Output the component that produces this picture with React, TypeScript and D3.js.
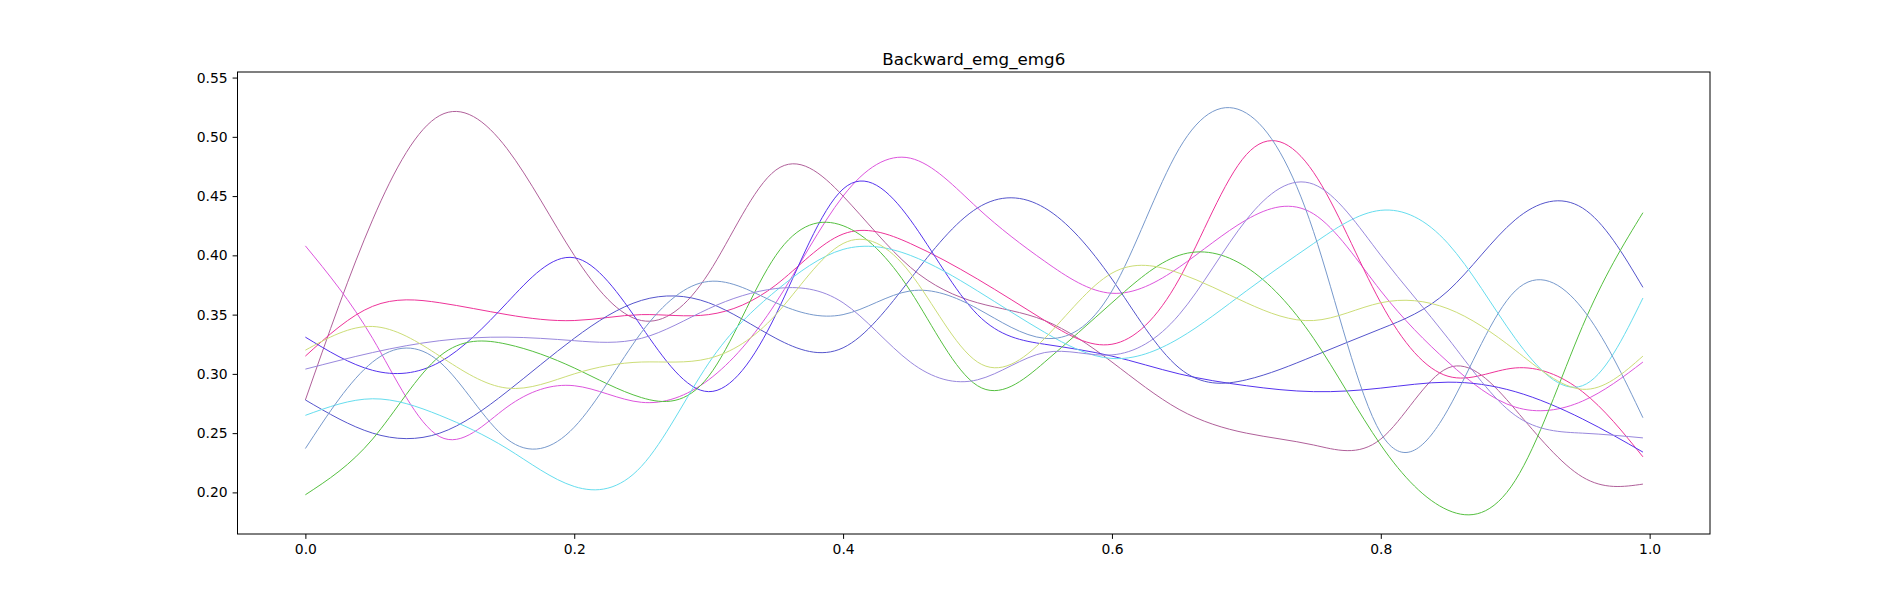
import { useEffect, useRef } from 'react';
import * as d3 from 'd3';

const xs = [0, 0.05, 0.1, 0.15, 0.2, 0.25, 0.3, 0.35, 0.4, 0.45, 0.5, 0.55, 0.6, 0.65, 0.7, 0.75, 0.8, 0.85, 0.9, 0.95, 0.995];

const mauve = [0.278, 0.43, 0.518, 0.49, 0.4, 0.345, 0.385, 0.472, 0.45, 0.39, 0.36, 0.345, 0.31, 0.27, 0.25, 0.24, 0.245, 0.305, 0.27, 0.213, 0.207];
const violet = [0.408, 0.33, 0.247, 0.272, 0.29, 0.276, 0.295, 0.36, 0.45, 0.482, 0.44, 0.395, 0.368, 0.39, 0.43, 0.435, 0.37, 0.31, 0.272, 0.277, 0.31];
const hotPink = [0.315, 0.357, 0.36, 0.35, 0.345, 0.35, 0.35, 0.375, 0.418, 0.41, 0.38, 0.345, 0.325, 0.38, 0.485, 0.47, 0.36, 0.298, 0.305, 0.285, 0.23];
const blueViolet = [0.331, 0.303, 0.31, 0.36, 0.398, 0.34, 0.285, 0.35, 0.456, 0.43, 0.35, 0.325, 0.315, 0.3, 0.29, 0.285, 0.288, 0.293, 0.285, 0.262, 0.234];
const slateBlue = [0.278, 0.25, 0.25, 0.285, 0.33, 0.362, 0.36, 0.33, 0.322, 0.38, 0.44, 0.44, 0.38, 0.305, 0.295, 0.315, 0.338, 0.37, 0.43, 0.44, 0.373];
const green = [0.198, 0.245, 0.315, 0.325, 0.305, 0.28, 0.298, 0.4, 0.425, 0.37, 0.29, 0.31, 0.36, 0.4, 0.39, 0.33, 0.24, 0.185, 0.21, 0.34, 0.436];
const cyan = [0.265, 0.279, 0.265, 0.237, 0.205, 0.222, 0.309, 0.37, 0.405, 0.4, 0.37, 0.335, 0.313, 0.33, 0.37, 0.41, 0.438, 0.41, 0.33, 0.29, 0.364];
const steel = [0.237, 0.31, 0.31, 0.245, 0.255, 0.335, 0.378, 0.36, 0.35, 0.37, 0.355, 0.33, 0.37, 0.49, 0.52, 0.42, 0.25, 0.27, 0.37, 0.355, 0.263];
const lavender = [0.304, 0.318, 0.328, 0.331, 0.328, 0.33, 0.355, 0.372, 0.36, 0.31, 0.295, 0.318, 0.316, 0.35, 0.43, 0.46, 0.4, 0.33, 0.265, 0.25, 0.246];
const yellow = [0.32, 0.34, 0.315, 0.288, 0.3, 0.31, 0.313, 0.35, 0.41, 0.385, 0.31, 0.33, 0.385, 0.385, 0.36, 0.345, 0.36, 0.355, 0.32, 0.287, 0.315];

const series = [
  { values: mauve, color: '#b0609a' },
  { values: violet, color: '#dd55dd' },
  { values: hotPink, color: '#ee3399' },
  { values: blueViolet, color: '#5533ee' },
  { values: slateBlue, color: '#5555cc' },
  { values: green, color: '#55c040' },
  { values: cyan, color: '#66ddee' },
  { values: steel, color: '#7799cc' },
  { values: lavender, color: '#9988dd' },
  { values: yellow, color: '#ccdd77' },
];

const xTicks = [0, 0.2, 0.4, 0.6, 0.8, 1.0];
const yTicks = [0.2, 0.25, 0.3, 0.35, 0.4, 0.45, 0.5, 0.55];

export default function App() {
  const ref = useRef<SVGSVGElement>(null);

  useEffect(() => {
    if (!ref.current) return;
    const svg = d3.select(ref.current);
    svg.selectAll('*').remove();

    const left = 237.5, right = 1710, top = 72, bottom = 534;
    const x = d3.scaleLinear().domain([-0.0505, 1.0449]).range([left, right]);
    const y = d3.scaleLinear().domain([0.1649, 0.5547]).range([bottom, top]);

    const line = d3
      .line<number>()
      .x((_, i) => x(xs[i]))
      .y((d) => y(d))
      .curve(d3.curveNatural);

    series.forEach((s) => {
      svg
        .append('path')
        .datum(s.values)
        .attr('fill', 'none')
        .attr('stroke', s.color)
        .attr('stroke-width', 1)
        .attr('d', line);
    });

    const font = 'DejaVu Sans, sans-serif';
    svg
      .append('g')
      .attr('transform', `translate(0,${bottom})`)
      .call(d3.axisBottom(x).tickValues(xTicks).tickFormat(d3.format('.1f')).tickSize(4.9).tickPadding(4.9))
      .call((g) => g.select('.domain').remove())
      .selectAll('text')
      .style('font-family', font)
      .style('font-size', '13.9px')
      .attr('fill', '#000');

    svg
      .append('g')
      .attr('transform', `translate(${left},0)`)
      .call(d3.axisLeft(y).tickValues(yTicks).tickFormat(d3.format('.2f')).tickSize(4.9).tickPadding(4.9))
      .call((g) => g.select('.domain').remove())
      .selectAll('text')
      .style('font-family', font)
      .style('font-size', '13.9px')
      .attr('fill', '#000');

    svg.selectAll('.tick line').attr('stroke', '#000').attr('stroke-width', 1);

    svg
      .append('rect')
      .attr('x', left)
      .attr('y', top)
      .attr('width', right - left)
      .attr('height', bottom - top)
      .attr('fill', 'none')
      .attr('stroke', '#000')
      .attr('stroke-width', 1);

    svg
      .append('text')
      .attr('x', (left + right) / 2)
      .attr('y', top - 7)
      .attr('text-anchor', 'middle')
      .style('font-family', font)
      .style('font-size', '16.7px')
      .text('Backward_emg_emg6');
  }, []);

  return (
    <svg
      ref={ref}
      width={1900}
      height={600}
      style={{ position: 'absolute', left: 0, top: 0, background: '#fff' }}
    />
  );
}
